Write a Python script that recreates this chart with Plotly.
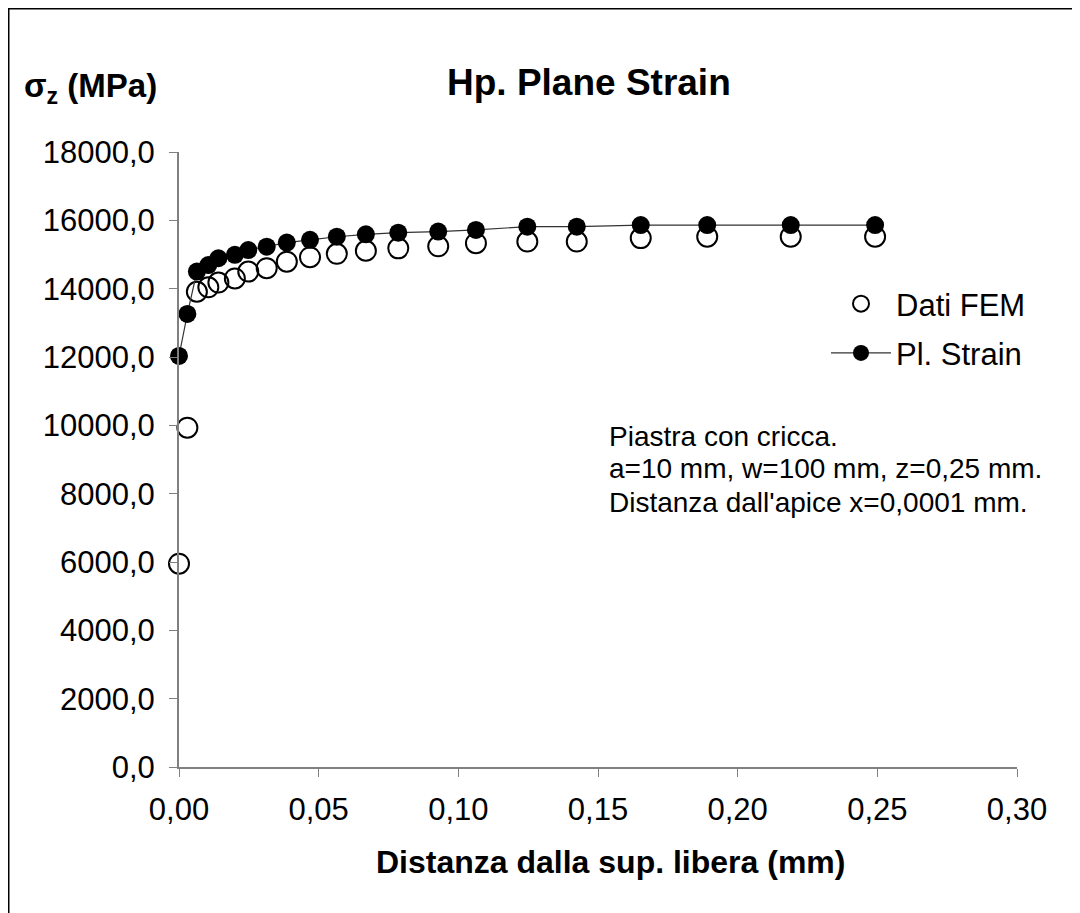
import plotly.graph_objects as go

# Data
x_mm = [0.0, 0.003, 0.0064, 0.0105, 0.0141, 0.020, 0.0248, 0.0314, 0.0386, 0.0469,
        0.0565, 0.0669, 0.0785, 0.0928, 0.1063, 0.1247, 0.1424, 0.1653, 0.1891, 0.2190, 0.2492]
fem_mpa = [5950, 9930, 13910, 14040, 14180, 14300, 14500, 14600, 14790, 14920,
           15020, 15110, 15180, 15240, 15330, 15380, 15380, 15480, 15520, 15520, 15520]
plstrain_mpa = [12030, 13260, 14500, 14690, 14890, 14990, 15130, 15230, 15350, 15430,
                15520, 15590, 15640, 15670, 15720, 15815, 15815, 15860, 15860, 15860, 15860]

x_ticks = [0.0, 0.05, 0.10, 0.15, 0.20, 0.25, 0.30]
y_ticks = [0, 2000, 4000, 6000, 8000, 10000, 12000, 14000, 16000, 18000]

note_lines = ["Piastra con cricca.",
              "a=10 mm, w=100 mm, z=0,25 mm.",
              "Distanza dall'apice x=0,0001 mm."]

FONT = "Liberation Sans, Arial, sans-serif"

# screen geometry (page body has an 8px margin)
OFF = 8
SW, SH = 1080, 913
L, R, T, B = 179, 1017, 152, 767   # plot area in screen pixels
W, H = SW - OFF, SH - OFF

def px(xp):
    return (xp - L) / (R - L)
def py(yp):
    return (B - yp) / (B - T)

fig = go.Figure()
fig.add_trace(go.Scatter(
    x=x_mm, y=fem_mpa, mode="markers", name="Dati FEM", legendgroup="fem",
    marker=dict(symbol="circle-open", size=20, color="black", line=dict(width=2, color="black")),
    cliponaxis=False,
))
fig.add_trace(go.Scatter(
    x=x_mm, y=plstrain_mpa, mode="lines+markers", name="Pl. Strain", legendgroup="pls",
    line=dict(color="#333333", width=1.2),
    marker=dict(symbol="circle", size=18, color="black"),
    cliponaxis=False,
))

fig.update_layout(
    width=W, height=H,
    margin=dict(l=L - OFF, r=SW - R, t=T - OFF, b=SH - B, autoexpand=False),
    paper_bgcolor="white", plot_bgcolor="white",
    separators=",.",
    font=dict(family=FONT, size=31, color="black"),
    showlegend=True,
    legend=dict(x=px(826), y=py(277), xanchor="left", yanchor="top",
                bgcolor="rgba(0,0,0,0)", font=dict(size=31), itemwidth=60,
                tracegroupgap=6),
    xaxis=dict(range=[0, 0.30], tickvals=x_ticks, tickformat=".2f",
               showline=True, linecolor="#808080", linewidth=2,
               ticks="outside", ticklen=8, tickcolor="#808080", tickwidth=1,
               ticklabelstandoff=6, showgrid=False, zeroline=False,
               tickfont=dict(size=31)),
    yaxis=dict(range=[0, 18000], tickvals=y_ticks, tickformat=".1f",
               showline=True, linecolor="#808080", linewidth=2,
               ticks="outside", ticklen=8, tickcolor="#808080", tickwidth=1,
               ticklabelstandoff=8, showgrid=False, zeroline=False,
               tickfont=dict(size=31)),
)

annotations = [
    dict(text="<b>Hp. Plane Strain</b>", x=px(589), y=py(82), xref="paper", yref="paper",
         xanchor="center", yanchor="middle", showarrow=False, font=dict(size=37)),
    dict(text="<b>σ<sub>z</sub> (MPa)</b>", x=px(22), y=py(88), xref="paper", yref="paper",
         xanchor="left", yanchor="middle", showarrow=False, font=dict(size=33)),
    dict(text="<b>Distanza dalla sup. libera (mm)</b>", x=px(610), y=py(862), xref="paper", yref="paper",
         xanchor="center", yanchor="middle", showarrow=False, font=dict(size=32)),
]
for i, line in enumerate(note_lines):
    annotations.append(dict(text=line, x=px(607), y=py(436 + 33 * i), xref="paper", yref="paper",
                            xanchor="left", yanchor="middle", showarrow=False, font=dict(size=28)))
fig.update_layout(annotations=annotations)

# outer chart border
fig.add_shape(type="rect", xref="paper", yref="paper",
              x0=px(8.5), x1=px(1077), y0=py(930), y1=py(8.5),
              line=dict(color="black", width=2), fillcolor="rgba(0,0,0,0)", layer="below")

fig.write_html("out.html")
